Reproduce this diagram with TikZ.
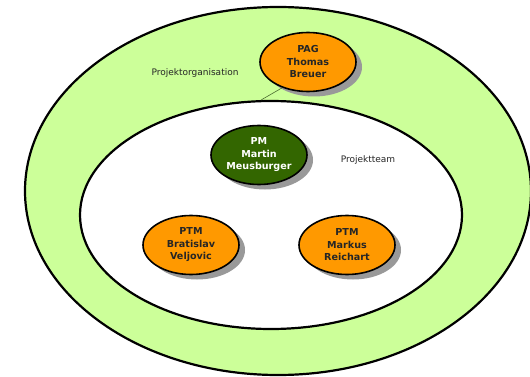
\documentclass[tikz,border=0pt]{standalone}
\usepackage{fontspec}
\setmainfont{DejaVu Sans}
\usetikzlibrary{shapes.geometric}
\definecolor{orgGreen}{HTML}{CCFF99}
\definecolor{roleOrange}{HTML}{FF9900}
\definecolor{leadGreen}{HTML}{336600}
\definecolor{shadowGrey}{HTML}{999999}
\definecolor{linkGreen}{HTML}{4A6A30}
\tikzset{
  ring/.style={ellipse, draw=black, line width=2.2pt, inner sep=0pt},
  role/.style={ellipse, draw=black, line width=1.6pt, fill=roleOrange,
    minimum width=96pt, minimum height=59pt, inner sep=0pt,
    align=center, font=\fontsize{9.6}{12.5}\selectfont\bfseries, text=black!85},
  lead/.style={role, fill=leadGreen, text=white},
  shade/.style={ellipse, fill=shadowGrey, draw=none,
    minimum width=96pt, minimum height=59pt, inner sep=0pt},
  caption/.style={font=\fontsize{9}{11}\selectfont, text=black!85},
  link/.style={draw=linkGreen, line width=0.6pt}
}
\begin{document}
\begin{tikzpicture}[x=1pt,y=-1pt]
  \useasboundingbox (0,0) rectangle (530,377);
  \fill[white] (0,0) rectangle (530,377);
  % organisation and team areas
  \node[ring, fill=orgGreen, minimum width=506pt, minimum height=368pt] (org) at (278,191) {};
  \node[ring, fill=white, minimum width=382pt, minimum height=228pt] (team) at (271,215) {};
  % drop shadows of the role ellipses
  \node[shade] at (314,67) {};
  \node[shade] at (265,160) {};
  \node[shade] at (197,250) {};
  \node[shade] at (353,250) {};
  % roles
  \node[role] (pag) at (308,62) {PAG\\Thomas\\Breuer};
  \node[lead] (pm) at (259,155) {PM\\Martin\\Meusburger};
  \node[role] (ptmA) at (191,245) {PTM\\Bratislav\\Veljovic};
  \node[role] (ptmB) at (347,245) {PTM\\Markus\\Reichart};
  % area captions
  \node[caption] (orgLabel) at (195,73) {Projektorganisation};
  \node[caption] (teamLabel) at (368,160) {Projektteam};
  % link from the steering group to the team
  \draw[link] (pag.225) -- (team.95);
\end{tikzpicture}
\end{document}
